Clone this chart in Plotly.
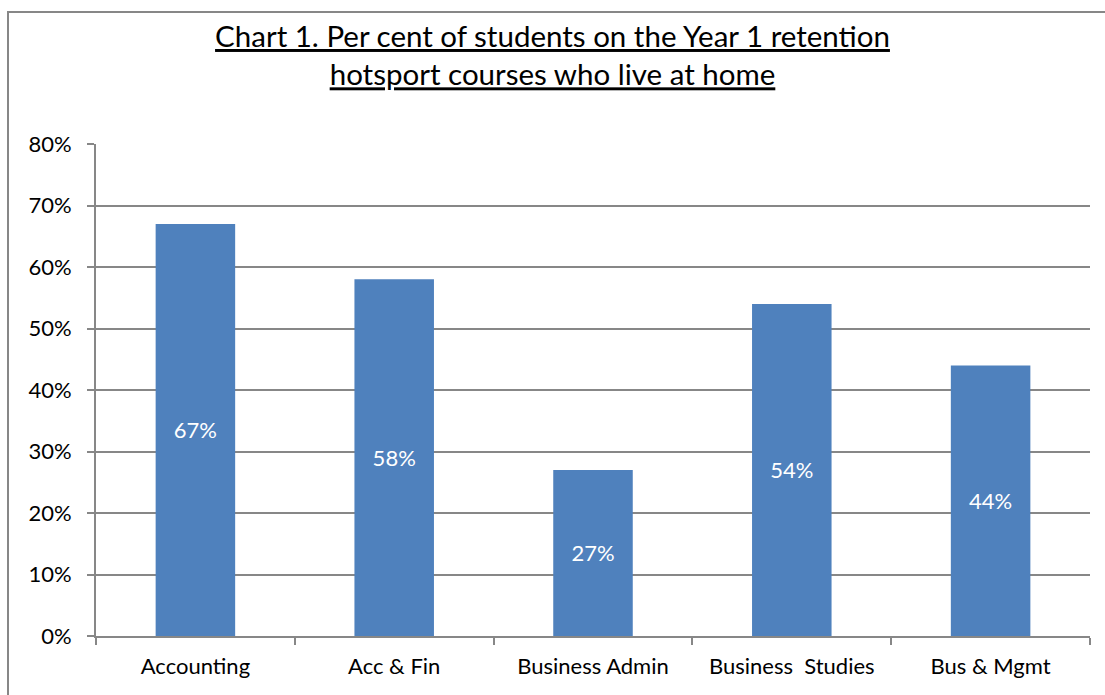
import plotly.graph_objects as go

categories = ["Accounting", "Acc & Fin", "Business Admin", "Business  Studies", "Bus & Mgmt"]
values = [0.67, 0.58, 0.27, 0.54, 0.44]
labels = ["67%", "58%", "27%", "54%", "44%"]
y_ticks = [0, 0.1, 0.2, 0.3, 0.4, 0.5, 0.6, 0.7, 0.8]

W, H = 1105, 695
L, R, T, B = 96, 15, 144, 59
pw, ph = W - L - R, H - T - B

fig = go.Figure(go.Bar(
    x=categories, y=values, text=labels, textposition="inside",
    insidetextanchor="middle",
    textfont=dict(color="white", size=22, family="Lato"),
    marker=dict(color="#4F81BD", line=dict(width=0)),
))

fig.update_layout(
    width=W, height=H,
    margin=dict(l=L, r=R, t=T, b=B, autoexpand=False),
    paper_bgcolor="white", plot_bgcolor="white",
    bargap=0.6,
    showlegend=False,
    font=dict(family="Lato", size=22, color="black"),
    title=dict(
        text='<span style="text-decoration:underline">Chart 1. Per cent of students on the Year 1 retention</span><br><span style="text-decoration:underline">hotsport courses who live at home</span>',
        x=0.5, xref="container", xanchor="center", y=1 - 47 / H, yanchor="middle",
        font=dict(size=29.5, family="Lato", color="black"),
    ),
    xaxis=dict(
        showline=True, linecolor="#878787", linewidth=2,
        ticks="outside", tickson="boundaries", ticklen=7, tickcolor="#878787", tickwidth=2,
        tickfont=dict(size=22), showgrid=False, ticklabelstandoff=10, automargin=False,
    ),
    yaxis=dict(
        range=[0, 0.8], tickvals=y_ticks, tickformat=".0%",
        showline=True, linecolor="#878787", linewidth=2,
        ticks="outside", ticklen=7, tickcolor="#878787", tickwidth=2,
        showgrid=True, gridcolor="#878787", gridwidth=2,
        tickfont=dict(size=22), zeroline=False, ticklabelstandoff=11, automargin=False,
    ),
)

fig.add_shape(
    type="rect", xref="paper", yref="paper",
    x0=(8 - L) / pw, x1=(W + 20 - L) / pw,
    y0=-(B + 20) / ph, y1=(H - B - 12) / ph,
    line=dict(color="#878787", width=2), layer="below",
)

fig.write_html("out.html", config={"displayModeBar": False})
with open("out.html", encoding="utf-8") as f:
    html = f.read()
html = html.replace("<head>", "<head><style>html,body{margin:0;padding:0;overflow:hidden}</style>", 1)
with open("out.html", "w", encoding="utf-8") as f:
    f.write(html)
